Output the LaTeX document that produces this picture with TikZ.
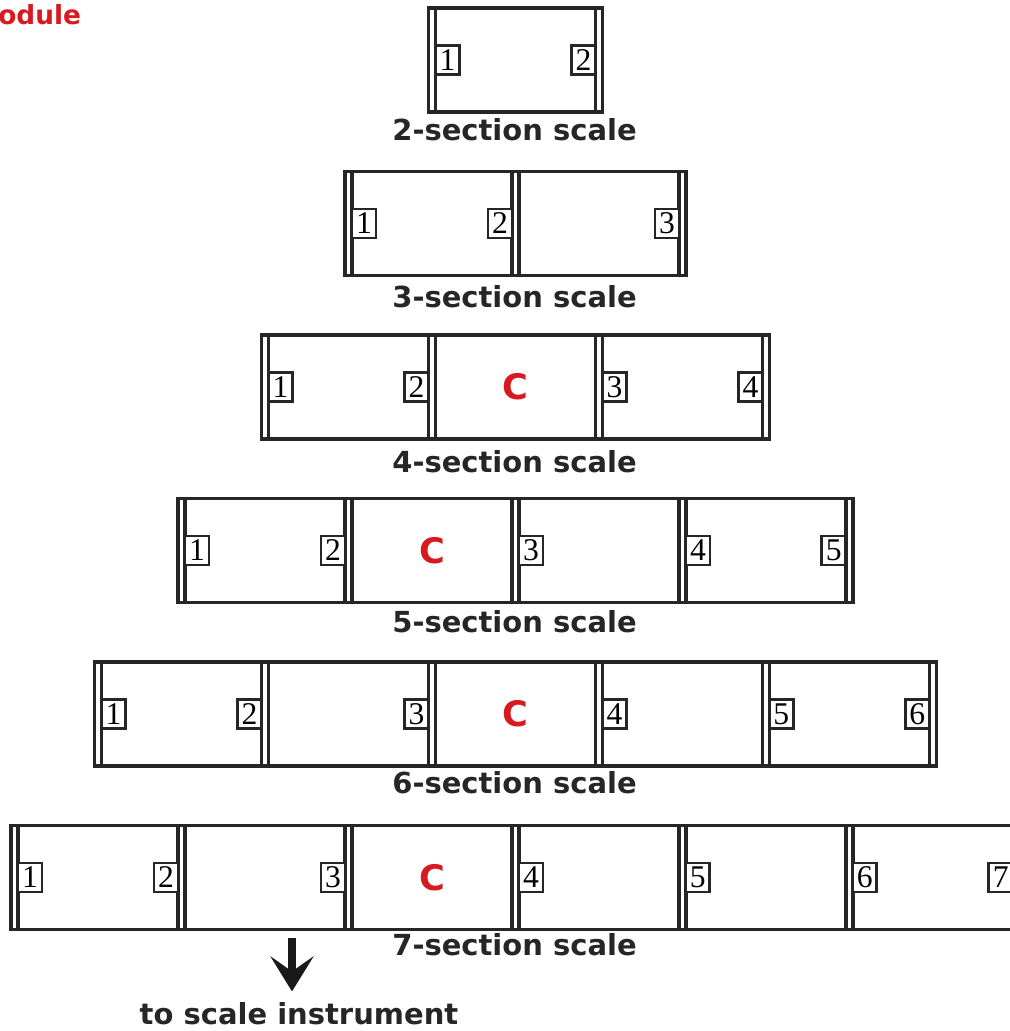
\documentclass[tikz,border=0pt]{standalone}
\usepackage{fontspec}
\newfontfamily\capfont{DejaVu Sans}
\newfontfamily\digitfont{Liberation Serif}
\usetikzlibrary{arrows.meta,positioning}
\definecolor{modred}{RGB}{215,25,32}
\begin{document}
\begin{tikzpicture}[x=0.02cm,y=-0.02cm,node distance=0.14cm,
  module/.style={draw=black!85,line width=1.9pt,minimum width=3.2cm,minimum height=2.08cm,inner sep=0pt,outer sep=0pt},
  frame/.style={draw=black!85,line width=1.9pt},
  numbox/.style={draw=black!85,line width=1.6pt,fill=white,minimum width=0.48cm,minimum height=0.58cm,inner sep=0pt,outer sep=0pt,font=\digitfont\fontsize{18}{18}\selectfont},
  cmark/.style={text=modred,font=\capfont\bfseries\fontsize{20}{20}\selectfont,inner sep=0pt},
  caption/.style={text=black!85,font=\capfont\bfseries\fontsize{16.5}{18}\selectfont,inner sep=0pt}]
\useasboundingbox (0,0) rectangle (1010,1031);
\node[text=modred,font=\capfont\bfseries\fontsize{15}{15}\selectfont,anchor=base west,inner sep=0pt] (title) at (-2,25) {odule};

% 2-section
\node[module] (s2m1) at (515.5,60) {};
\draw[frame] ([xshift=-0.14cm]s2m1.north west) rectangle ([xshift=0.14cm]s2m1.south east);
\node[numbox,anchor=west] (s2n1) at (s2m1.west) {1};
\node[numbox,anchor=east] (s2n2) at (s2m1.east) {2};
\node[caption] (s2cap) at (514.5,130) {2-section scale};

% 3-section
\node[module] (s3m1) at (432,223.5) {};
\node[module,right=of s3m1] (s3m2) {};
\draw[frame] ([xshift=-0.14cm]s3m1.north west) rectangle ([xshift=0.14cm]s3m2.south east);
\node[numbox,anchor=west] (s3n1) at (s3m1.west) {1};
\node[numbox,anchor=east] (s3n2) at (s3m1.east) {2};
\node[numbox,anchor=east] (s3n3) at (s3m2.east) {3};
\node[caption] (s3cap) at (514.5,297) {3-section scale};

% 4-section
\node[module] (s4m1) at (348.5,387) {};
\node[module,right=of s4m1] (s4m2) {};
\node[module,right=of s4m2] (s4m3) {};
\draw[frame] ([xshift=-0.14cm]s4m1.north west) rectangle ([xshift=0.14cm]s4m3.south east);
\node[numbox,anchor=west] (s4n1) at (s4m1.west) {1};
\node[numbox,anchor=east] (s4n2) at (s4m1.east) {2};
\node[cmark] (s4c) at (s4m2) {C};
\node[numbox,anchor=west] (s4n3) at (s4m3.west) {3};
\node[numbox,anchor=east] (s4n4) at (s4m3.east) {4};
\node[caption] (s4cap) at (514.5,462) {4-section scale};

% 5-section
\node[module] (s5m1) at (265,550.5) {};
\node[module,right=of s5m1] (s5m2) {};
\node[module,right=of s5m2] (s5m3) {};
\node[module,right=of s5m3] (s5m4) {};
\draw[frame] ([xshift=-0.14cm]s5m1.north west) rectangle ([xshift=0.14cm]s5m4.south east);
\node[numbox,anchor=west] (s5n1) at (s5m1.west) {1};
\node[numbox,anchor=east] (s5n2) at (s5m1.east) {2};
\node[cmark] (s5c) at (s5m2) {C};
\node[numbox,anchor=west] (s5n3) at (s5m3.west) {3};
\node[numbox,anchor=west] (s5n4) at (s5m4.west) {4};
\node[numbox,anchor=east] (s5n5) at (s5m4.east) {5};
\node[caption] (s5cap) at (514.5,622) {5-section scale};

% 6-section
\node[module] (s6m1) at (181.5,714) {};
\node[module,right=of s6m1] (s6m2) {};
\node[module,right=of s6m2] (s6m3) {};
\node[module,right=of s6m3] (s6m4) {};
\node[module,right=of s6m4] (s6m5) {};
\draw[frame] ([xshift=-0.14cm]s6m1.north west) rectangle ([xshift=0.14cm]s6m5.south east);
\node[numbox,anchor=west] (s6n1) at (s6m1.west) {1};
\node[numbox,anchor=east] (s6n2) at (s6m1.east) {2};
\node[numbox,anchor=east] (s6n3) at (s6m2.east) {3};
\node[cmark] (s6c) at (s6m3) {C};
\node[numbox,anchor=west] (s6n4) at (s6m4.west) {4};
\node[numbox,anchor=west] (s6n5) at (s6m5.west) {5};
\node[numbox,anchor=east] (s6n6) at (s6m5.east) {6};
\node[caption] (s6cap) at (514.5,783) {6-section scale};

% 7-section
\node[module] (s7m1) at (98,877.5) {};
\node[module,right=of s7m1] (s7m2) {};
\node[module,right=of s7m2] (s7m3) {};
\node[module,right=of s7m3] (s7m4) {};
\node[module,right=of s7m4] (s7m5) {};
\node[module,right=of s7m5] (s7m6) {};
\draw[frame] ([xshift=-0.14cm]s7m1.north west) rectangle ([xshift=0.14cm]s7m6.south east);
\node[numbox,anchor=west] (s7n1) at (s7m1.west) {1};
\node[numbox,anchor=east] (s7n2) at (s7m1.east) {2};
\node[numbox,anchor=east] (s7n3) at (s7m2.east) {3};
\node[cmark] (s7c) at (s7m3) {C};
\node[numbox,anchor=west] (s7n4) at (s7m4.west) {4};
\node[numbox,anchor=west] (s7n5) at (s7m5.west) {5};
\node[numbox,anchor=west] (s7n6) at (s7m6.west) {6};
\node[numbox,anchor=east] (s7n7) at (s7m6.east) {7};
\node[caption] (s7cap) at (514.5,945) {7-section scale};

% output
\coordinate (arrtop) at (292,938);
\node[caption] (dest) at (299,1014) {to scale instrument};
\draw[line width=4.5pt,black!90,shorten >=0.22cm,-{Stealth[length=0.7cm,width=0.86cm,inset=0.3cm]}] (arrtop) -- (arrtop |- dest.north);
\end{tikzpicture}
\end{document}
